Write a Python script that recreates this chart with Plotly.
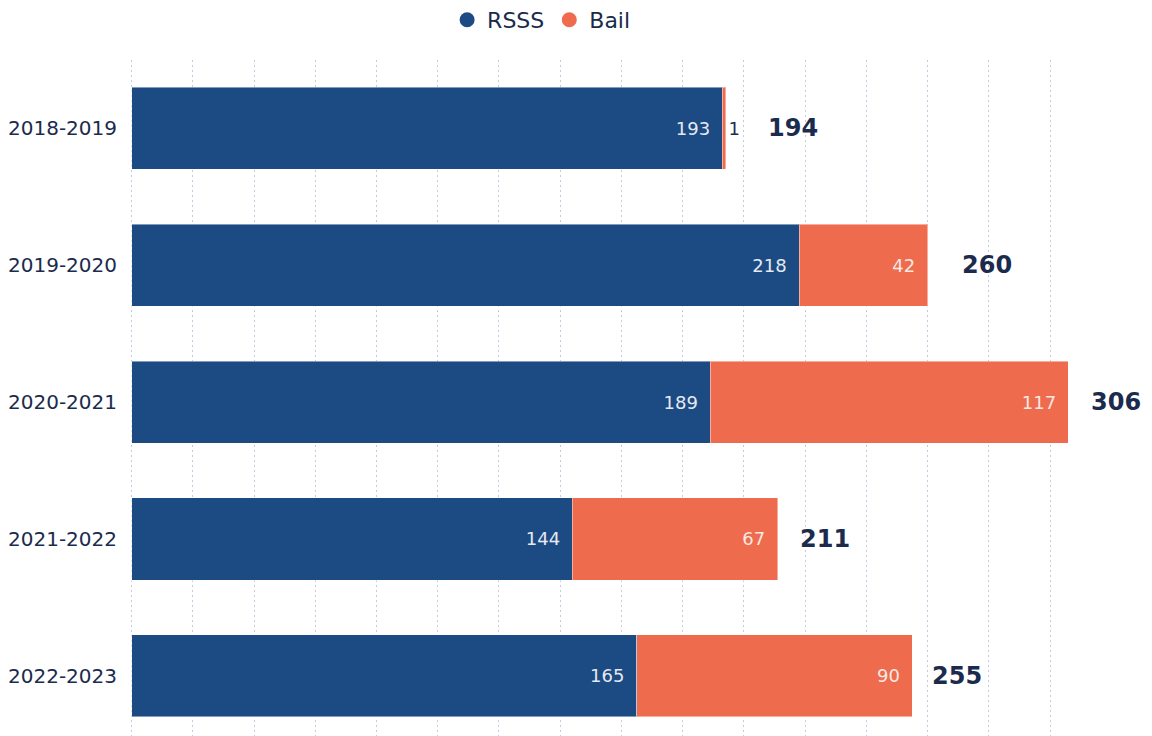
import plotly.graph_objects as go

years = ["2018-2019", "2019-2020", "2020-2021", "2021-2022", "2022-2023"]
rsss = [193, 218, 189, 144, 165]
bail = [1, 42, 117, 67, 90]
totals = [r + b for r, b in zip(rsss, bail)]

# style: pixel gap between bar end and total label, per row
label_gap = [40, 32, 21, 20, 18]

BLUE = "#1c4a82"
ORANGE = "#ee6b4d"
NAVY = "#1b2b4d"
FONT = "DejaVu Sans"
PAD = "\u00a0\u2009"

fig = go.Figure()
fig.add_trace(go.Bar(
    y=years, x=rsss, orientation="h", name="RSSS",
    marker=dict(color=BLUE, line=dict(color="rgba(255,255,255,0.45)", width=1)),
    text=[f"{v}{PAD}" for v in rsss], textposition="inside", insidetextanchor="end",
    insidetextfont=dict(color="#e4e9f2", size=18, family=FONT),
    showlegend=False, hoverinfo="x+name",
))
fig.add_trace(go.Bar(
    y=years, x=bail, orientation="h", name="Bail",
    marker=dict(color=ORANGE, line=dict(color="rgba(255,255,255,0.45)", width=1)),
    text=[f"{v}{PAD}" if v >= 10 else f"{v}" for v in bail], textposition="auto", insidetextanchor="end",
    insidetextfont=dict(color="#f8e8e2", size=18, family=FONT),
    outsidetextfont=dict(color=NAVY, size=18, family=FONT),
    cliponaxis=False,
    showlegend=False, hoverinfo="x+name",
))
# legend entries with circle markers
for name, col in [("RSSS", BLUE), ("Bail", ORANGE)]:
    fig.add_trace(go.Scatter(x=[None], y=[None], mode="markers", name=name,
                             marker=dict(symbol="circle", size=15, color=col)))

for yr, tot, gap in zip(years, totals, label_gap):
    fig.add_annotation(x=tot, y=yr, text=f"<b>{tot}</b>", showarrow=False,
                       xanchor="left", xshift=gap,
                       font=dict(size=24, color=NAVY, family=FONT))

# page body has an 8px margin, so the figure is sized 8px smaller in each direction
W, H = 1144, 728
fig.update_layout(
    width=W, height=H,
    barmode="stack", bargap=0.4,
    plot_bgcolor="white", paper_bgcolor="white",
    margin=dict(l=122, r=56, t=51.5, b=0, autoexpand=False),
    font=dict(family=FONT, color=NAVY),
    legend=dict(orientation="h", xref="container", yref="container",
                x=0.466, xanchor="center", y=1 - 12 / H, yanchor="middle",
                traceorder="normal",
                font=dict(size=22, color=NAVY, family=FONT), itemwidth=30),
    xaxis=dict(range=[-0.5, 315], dtick=20, showticklabels=False,
               showgrid=True, gridcolor="#c2cadd", griddash="2px,3px", gridwidth=1.2,
               zeroline=False, showline=False),
    yaxis=dict(categoryorder="array", categoryarray=years, range=[4.44, -0.5],
               showgrid=False, zeroline=False, showline=False, automargin=False,
               ticks="", ticklabelstandoff=12,
               tickfont=dict(size=20, color=NAVY, family=FONT)),
)

fig.write_html("out.html")
